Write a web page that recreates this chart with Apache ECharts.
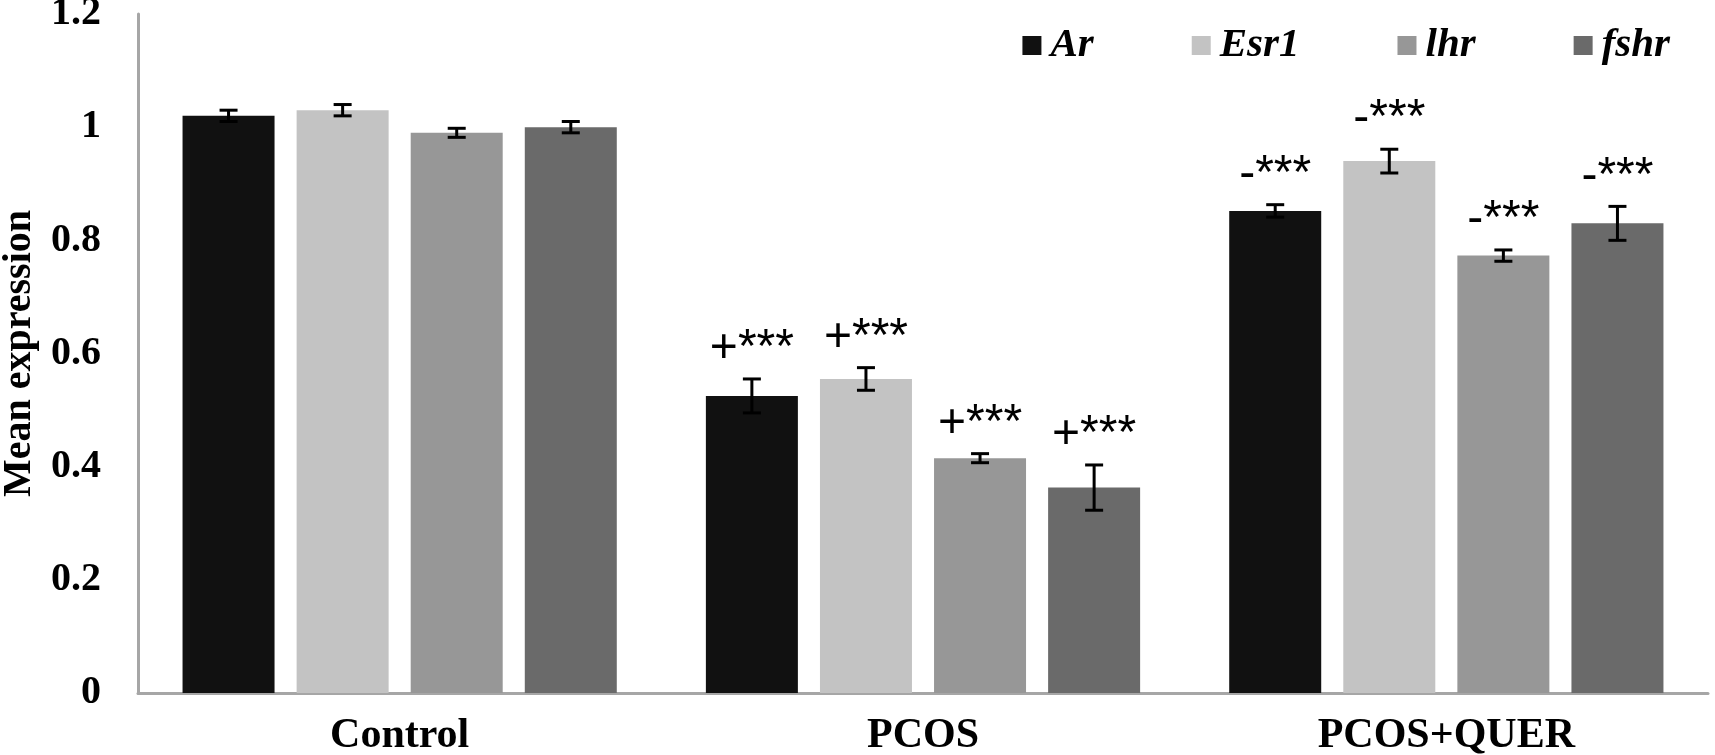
<!DOCTYPE html>
<html>
<head>
<meta charset="utf-8">
<title>Mean expression</title>
<script src="https://cdn.jsdelivr.net/npm/echarts@6/dist/echarts.min.js"></script>
<style>
  html, body { margin: 0; padding: 0; background: #fff; }
  #chart { width: 1715px; height: 755px; }
</style>
</head>
<body>
<div id="chart"></div>
<script>
// 分组和基因
const groups = ['Control', 'PCOS', 'PCOS+QUER'];
const genes = ['Ar', 'Esr1', 'lhr', 'fshr'];
const geneColors = ['#111111', '#c3c3c3', '#979797', '#6a6a6a'];

// 平均表达量（每个基因一组，按 groups 顺序）
const arMean = [1.02, 0.525, 0.852];
const esr1Mean = [1.03, 0.555, 0.94];
const lhrMean = [0.99, 0.415, 0.773];
const fshrMean = [1.0, 0.363, 0.83];

// 误差
const arErr = [0.01, 0.03, 0.011];
const esr1Err = [0.01, 0.02, 0.021];
const lhrErr = [0.008, 0.008, 0.01];
const fshrErr = [0.01, 0.04, 0.03];

// 显著性标记
const sigLabels = ['', '+***', '-***'];

// y 轴刻度
const yTicks = [0, 0.2, 0.4, 0.6, 0.8, 1, 1.2];

const means = [arMean, esr1Mean, lhrMean, fshrMean];
const errs = [arErr, esr1Err, lhrErr, fshrErr];

const BAR_W = 92;
const BAR_GAP = 0.24;
const CAP = 9;
const SERIF = '"Liberation Serif", "Times New Roman", serif';

const chart = echarts.init(document.getElementById('chart'));

const barSeries = genes.map((g, i) => ({
  name: g,
  type: 'bar',
  data: means[i],
  barWidth: BAR_W,
  barGap: (BAR_GAP * 100) + '%',
  itemStyle: { color: geneColors[i] },
  z: 2
}));

// 误差线 + 标记
const errSeries = genes.map((g, i) => ({
  type: 'custom',
  z: 5,
  silent: true,
  data: groups.map((c, j) => [j, means[i][j], errs[i][j]]),
  renderItem: function (params, api) {
    const off = (i - 1.5) * BAR_W * (1 + BAR_GAP);
    const cx = api.coord([api.value(0), 0])[0] + off;
    const m = api.value(1), e = api.value(2);
    const yHi = api.coord([0, m + e])[1];
    const yLo = api.coord([0, m - e])[1];
    const st = { stroke: '#000', lineWidth: 3 };
    const children = [
      { type: 'line', shape: { x1: cx, y1: yHi, x2: cx, y2: yLo }, style: st },
      { type: 'line', shape: { x1: cx - CAP, y1: yHi, x2: cx + CAP, y2: yHi }, style: st },
      { type: 'line', shape: { x1: cx - CAP, y1: yLo, x2: cx + CAP, y2: yLo }, style: st }
    ];
    const txt = sigLabels[api.value(0)];
    if (txt) {
      children.push({
        type: 'text',
        style: {
          text: txt, x: cx, y: yHi - 6,
          align: 'center', verticalAlign: 'bottom',
          fill: '#000', font: '48px "Liberation Sans", Arial, sans-serif'
        }
      });
    }
    return { type: 'group', children: children };
  }
}));

const option = {
  animation: false,
  grid: { left: 138, right: 7, top: 14, bottom: 62, outerBoundsMode: 'none' },
  legend: {
    data: genes,
    right: 40,
    top: 20,
    itemWidth: 19,
    itemHeight: 19,
    itemGap: 98,
    icon: 'rect',
    textStyle: {
      fontFamily: SERIF,
      fontWeight: 'bold',
      fontStyle: 'italic',
      fontSize: 41,
      color: '#000',
      padding: [0, 0, 0, 4]
    }
  },
  xAxis: {
    type: 'category',
    data: groups,
    axisTick: { show: false },
    axisLine: { lineStyle: { color: '#a6a6a6', width: 3 } },
    axisLabel: {
      margin: 22,
      fontFamily: SERIF,
      fontWeight: 'bold',
      fontSize: 42,
      color: '#000'
    }
  },
  yAxis: {
    type: 'value',
    min: yTicks[0],
    max: yTicks[yTicks.length - 1],
    interval: 0.2,
    name: 'Mean expression',
    nameLocation: 'middle',
    nameGap: 98,
    nameTextStyle: {
      fontFamily: SERIF,
      fontWeight: 'bold',
      fontSize: 40,
      color: '#000'
    },
    splitLine: { show: false },
    axisTick: { show: false },
    axisLine: { show: true, lineStyle: { color: '#a6a6a6', width: 3 } },
    axisLabel: {
      margin: 37,
      fontFamily: SERIF,
      fontWeight: 'bold',
      fontSize: 40,
      color: '#000'
    }
  },
  series: barSeries.concat(errSeries)
};

chart.setOption(option);
</script>
</body>
</html>
